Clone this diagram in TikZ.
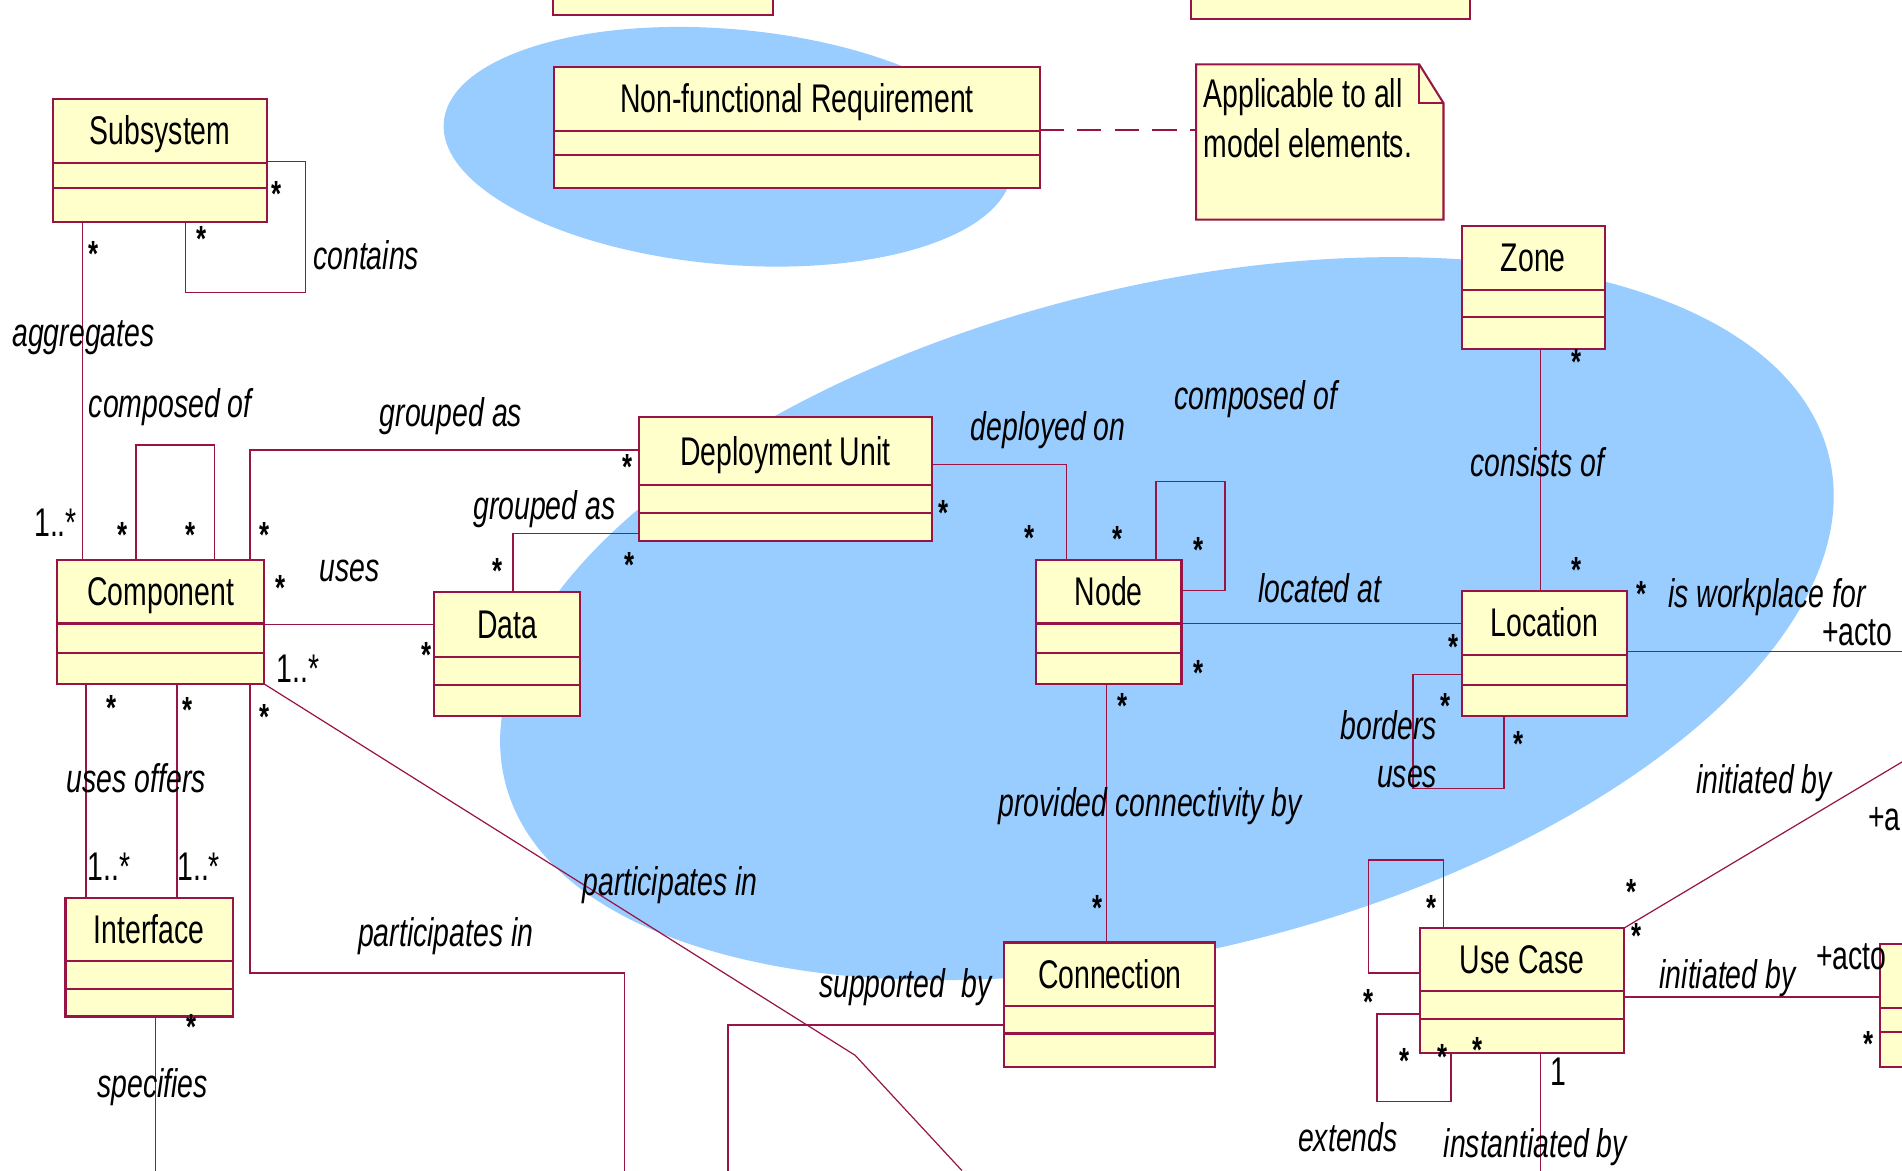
\documentclass[tikz,border=0pt]{standalone}
\usepackage{fontspec}
\setmainfont{Liberation Sans}[FakeStretch=0.71]

\definecolor{umlred}{RGB}{153,20,70}
\definecolor{umlfill}{RGB}{255,255,204}
\definecolor{areablue}{RGB}{153,204,255}

\tikzset{
  classbox/.style={draw=umlred, fill=umlfill, line width=1.7pt, inner sep=0pt, outer sep=0pt},
  sepline/.style={draw=umlred, line width=1.7pt},
  assoc/.style={draw=umlred, line width=1.2pt},
  cname/.style={font=\fontsize{33}{37}\selectfont, inner sep=0pt, text height=26pt, text depth=3pt},
  lbl/.style={font=\fontsize{33}{37}\selectfont\itshape, inner sep=0pt, anchor=west, text height=26pt, text depth=3pt},
  mtext/.style={font=\fontsize{33}{37}\selectfont, inner sep=0pt, anchor=west, text height=26pt, text depth=3pt},
  mult/.style={font=\fontsize{33}{37}\selectfont, inner sep=0pt, anchor=base west},
  mstar/.style={font=\fontsize{30}{34}\selectfont\bfseries, inner sep=0pt, anchor=base, yshift=-14pt},
}

% class box: name, x1, y1, x2, y2, first separator y, second separator y, class name
\newcommand\umlclass[8]{%
  \node[classbox, minimum width={(#4-#2)*1pt}, minimum height={(#5-#3)*1pt}] (#1) at ({(#2+#4)/2},{(#3+#5)/2}) {};
  \draw[sepline] (#1.west |- 0,#6) -- (#1.east |- 0,#6);
  \draw[sepline] (#1.west |- 0,#7) -- (#1.east |- 0,#7);
  \node[cname] (#1-name) at ({(#2+#4)/2},{(#3+#6)/2}) {#8};
}

\begin{document}
\begin{tikzpicture}[x=1pt, y=-1pt]
\useasboundingbox (0,0) rectangle (1568,965);
\clip (0,0) rectangle (1568,965);
\fill[white] (0,0) rectangle (1568,965);

% shaded areas
\fill[areablue, rotate around={-5:(600,121)}] (600,121) ellipse [x radius=235, y radius=97];
\fill[areablue, rotate around={13.8:(962,510)}] (962,510) ellipse [x radius=562, y radius=274];

% classes
\node[classbox, minimum width=181pt, minimum height=40pt] (topA) at (546.5,-8) {};
\node[classbox, minimum width=230pt, minimum height=40pt] (topB) at (1097,-4) {};
\umlclass{nfr}{457}{55}{857}{155}{108}{128}{Non-functional Requirement}
\umlclass{sub}{44}{82}{220}{183}{134}{155}{Subsystem}
\umlclass{comp}{47}{462}{218}{564}{514}{538}{Component}
\umlclass{data}{358}{488}{478}{590}{542}{565}{Data}
\umlclass{du}{527}{344}{768}{446}{400}{423}{Deployment Unit}
\umlclass{node}{854}{462}{974}{564}{514}{538}{Node}
\umlclass{zone}{1205}{186}{1323}{288}{239}{261}{Zone}
\umlclass{loc}{1205}{487}{1341}{590}{540}{565}{Location}
\umlclass{iface}{54}{740}{192}{838}{792}{815}{Interface}
\umlclass{conn}{828}{777}{1002}{880}{829}{852}{Connection}
\umlclass{uc}{1171}{765}{1339}{868}{817}{840}{Use Case}
\umlclass{actor}{1550}{778}{1640}{880}{831}{851}{}

% note with folded corner
\node[inner sep=0pt, outer sep=0pt, minimum width=204pt, minimum height=128pt] (note) at (1088,117) {};
\draw[classbox] (note.north west) -- ([xshift=-20pt]note.north east) -- ([yshift=-32pt]note.north east)
  -- (note.south east) -- (note.south west) -- cycle;
\draw[sepline] ([xshift=-20pt]note.north east) |- ([yshift=-32pt]note.north east);
\node[mult] (note-1) at (992,89) {Applicable to all};
\node[mult] (note-2) at (992,130) {model elements.};
\draw[assoc, dash pattern=on 20pt off 11pt] (nfr.east |- 0,107) -- (note.west |- 0,107);

% free ends at the border
\coordinate (endA) at (515,975);
\coordinate (endB) at (600,975);
\coordinate (endC) at (128,975);
\coordinate (endD) at (793,965);
\coordinate (endE) at (1580,537);
\coordinate (endF) at (1580,621);
\coordinate (endG) at (1270,975);

% associations
\draw[assoc] (sub.east |- 0,133) -| (252,241) -| (sub.south -| 153,0);
\draw[assoc] (sub.south -| 68,0) -- (comp.north -| 68,0);
\draw[assoc] (comp.north -| 112,0) |- (177,367) -- (comp.north -| 177,0);
\draw[assoc] (comp.north -| 206,0) |- (du.west |- 0,371);
\draw[assoc] (data.north -| 423,0) |- (du.west |- 0,440);
\draw[assoc] (comp.east |- 0,515) -- (data.west |- 0,515);
\draw[assoc] (comp.south -| 71,0) -- (iface.north -| 71,0);
\draw[assoc] (comp.south -| 146,0) -- (iface.north -| 146,0);
\draw[assoc] (comp.south -| 206,0) |- (515,802) -- (endA);
\draw[assoc, line width=1pt] (comp.south east) -- (705,870) -- (endD);
\draw[assoc] (du.east |- 0,383) -| (node.north -| 879,0);
\draw[assoc] (node.north -| 953,0) |- (1010,397) |- (node.east |- 0,487);
\draw[assoc] (node.east |- 0,514) -- (loc.west |- 0,514);
\draw[assoc] (node.south -| 912,0) -- (conn.north -| 912,0);
\draw[assoc] (zone.south -| 1270,0) -- (loc.north -| 1270,0);
\draw[assoc] (loc.west |- 0,556) -| (1165,650) -| (loc.south -| 1240,0);
\draw[assoc] (loc.east |- 0,537) -- (endE);
\draw[assoc] (conn.west |- 0,845) -| (endB);
\draw[assoc] (iface.south -| 128,0) -- (endC);
\draw[assoc] (uc.north -| 1190,0) |- (1128,709) |- (uc.west |- 0,802);
\draw[assoc] (uc.west |- 0,836) -| (1135,908) -| (uc.south -| 1196,0);
\draw[assoc, line width=1pt] (uc.north east) -- (endF);
\draw[assoc] (uc.east |- 0,822) -- (actor.west |- 0,822);
\draw[assoc] (uc.south -| 1270,0) -- (endG);

% association names
\node[lbl] (l1) at (258,211) {contains};
\node[lbl] (l2) at (10,274) {aggregates};
\node[lbl] (l3) at (73,333) {composed of};
\node[lbl] (l4) at (313,340) {grouped as};
\node[lbl] (l5) at (390,417) {grouped as};
\node[lbl] (l6) at (263,468) {uses};
\node[lbl] (l7) at (800,352) {deployed on};
\node[lbl] (l8) at (968,326) {composed of};
\node[lbl] (l9) at (1212,381) {consists of};
\node[lbl] (l10) at (1037,485) {located at};
\node[lbl] (l11) at (1375,489) {is workplace for};
\node[lbl] (l12) at (1105,598) {borders};
\node[lbl] (l13) at (1135,638) {uses};
\node[lbl] (l14) at (823,662) {provided connectivity by};
\node[lbl] (l15) at (480,727) {participates in};
\node[lbl] (l16) at (295,769) {participates in};
\node[lbl] (l17) at (55,642) {uses offers};
\node[lbl] (l18) at (80,893) {specifies};
\node[lbl] (l19) at (675,811) {supported\ \ by};
\node[lbl] (l20) at (1398,643) {initiated by};
\node[lbl] (l21) at (1368,803) {initiated by};
\node[lbl] (l22) at (1070,938) {extends};
\node[lbl] (l23) at (1190,943) {instantiated by};

% role names
\node[mtext] (r1) at (1502,521) {+acto};
\node[mtext] (r2) at (1540,673) {+a};
\node[mtext] (r3) at (1497,788) {+acto};

% multiplicities
\node[mult] (m1) at (28,442) {1..*};
\node[mult] (m2) at (228,563) {1..*};
\node[mult] (m3) at (72,726) {1..*};
\node[mult] (m4) at (146,726) {1..*};
\node[mult] (m5) at (1278,895) {1};

\node[mstar] (s1) at (228,156) {*};
\node[mstar] (s2) at (166,193) {*};
\node[mstar] (s3) at (77,206) {*};
\node[mstar] (s4) at (101,437) {*};
\node[mstar] (s5) at (157,437) {*};
\node[mstar] (s6) at (218,437) {*};
\node[mstar] (s7) at (231,481) {*};
\node[mstar] (s8) at (92,580) {*};
\node[mstar] (s9) at (155,582) {*};
\node[mstar] (s10) at (218,587) {*};
\node[mstar] (s11) at (517,381) {*};
\node[mstar] (s12) at (410,467) {*};
\node[mstar] (s13) at (519,462) {*};
\node[mstar] (s14) at (352,536) {*};
\node[mstar] (s15) at (778,419) {*};
\node[mstar] (s16) at (849,440) {*};
\node[mstar] (s17) at (921,441) {*};
\node[mstar] (s18) at (988,450) {*};
\node[mstar] (s19) at (988,551) {*};
\node[mstar] (s20) at (925,578) {*};
\node[mstar] (s21) at (1300,295) {*};
\node[mstar] (s22) at (1300,466) {*};
\node[mstar] (s23) at (1198,530) {*};
\node[mstar] (s24) at (1353,486) {*};
\node[mstar] (s25) at (1192,578) {*};
\node[mstar] (s26) at (1252,610) {*};
\node[mstar] (s27) at (158,843) {*};
\node[mstar] (s28) at (905,745) {*};
\node[mstar] (s29) at (1180,745) {*};
\node[mstar] (s30) at (1345,732) {*};
\node[mstar] (s31) at (1349,768) {*};
\node[mstar] (s32) at (1128,822) {*};
\node[mstar] (s33) at (1158,871) {*};
\node[mstar] (s34) at (1189,868) {*};
\node[mstar] (s35) at (1218,862) {*};
\node[mstar] (s36) at (1540,857) {*};
\end{tikzpicture}
\end{document}
